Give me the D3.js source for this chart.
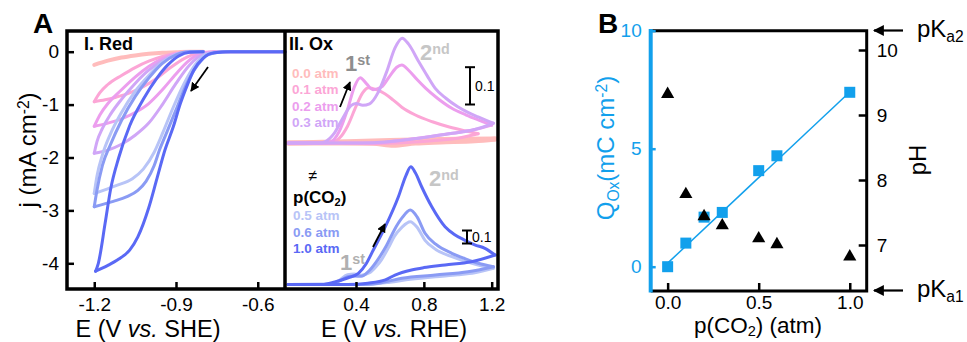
<!DOCTYPE html>
<html><head><meta charset="utf-8">
<script src="https://cdn.jsdelivr.net/npm/d3@7"></script>
<style>body{margin:0;background:#fff;overflow:hidden} svg{font-family:Arial,"Liberation Sans",sans-serif}</style>
</head><body><svg id="c" width="967" height="342"></svg>
<script>
// ---------------- DATA ----------------
const pressures = ["0.0","0.1","0.2","0.3","0.5","0.6","1.0"];
// Panel A-I : reduction CVs  [E (V vs SHE), j (mA cm-2)]
const red00 = [[-1.2,-0.25],[-1.15,-0.17],[-1.1,-0.11],[-1.05,-0.07],[-1.0,-0.04],[-0.95,-0.02],[-0.9,-0.01],[-0.85,0],[-0.8,0]];
const red01 = [[-0.5,0],[-0.76,0],[-0.82,-0.03],[-0.87,-0.13],[-0.92,-0.3],[-0.97,-0.5],[-1.02,-0.66],[-1.07,-0.78],[-1.12,-0.86],[-1.16,-0.91],[-1.2,-0.945],
  [-1.18,-0.78],[-1.15,-0.62],[-1.1,-0.45],[-1.05,-0.3],[-1.0,-0.18],[-0.95,-0.09],[-0.9,-0.03],[-0.85,0],[-0.8,0]];
const red02 = [[-0.5,0],[-0.75,0],[-0.81,-0.04],[-0.86,-0.2],[-0.9,-0.42],[-0.95,-0.72],[-1.0,-0.98],[-1.05,-1.15],[-1.1,-1.27],[-1.15,-1.35],[-1.2,-1.41],
  [-1.18,-1.2],[-1.15,-0.98],[-1.1,-0.72],[-1.05,-0.48],[-1.0,-0.28],[-0.95,-0.13],[-0.9,-0.04],[-0.85,0],[-0.8,0]];
const red03 = [[-0.5,0],[-0.74,0],[-0.8,-0.05],[-0.85,-0.25],[-0.9,-0.6],[-0.95,-1.0],[-1.0,-1.35],[-1.05,-1.58],[-1.1,-1.75],[-1.15,-1.86],[-1.2,-1.92],
  [-1.19,-1.7],[-1.17,-1.45],[-1.14,-1.18],[-1.1,-0.9],[-1.05,-0.6],[-1.0,-0.35],[-0.95,-0.17],[-0.9,-0.05],[-0.85,0],[-0.8,0]];
const red05 = [[-0.5,0],[-0.73,0],[-0.79,-0.05],[-0.83,-0.25],[-0.87,-0.6],[-0.91,-1.05],[-0.95,-1.55],[-0.98,-1.9],[-1.02,-2.22],[-1.06,-2.4],[-1.12,-2.53],[-1.2,-2.68],
  [-1.19,-2.35],[-1.17,-1.95],[-1.14,-1.55],[-1.1,-1.15],[-1.05,-0.75],[-1.0,-0.45],[-0.95,-0.2],[-0.9,-0.05],[-0.85,0],[-0.8,0]];
const red06 = [[-0.5,0],[-0.72,0],[-0.78,-0.05],[-0.82,-0.25],[-0.86,-0.6],[-0.9,-1.1],[-0.94,-1.6],[-0.96,-1.85],[-0.98,-2.15],[-1.01,-2.45],[-1.04,-2.62],[-1.08,-2.74],[-1.13,-2.83],[-1.2,-2.93],
  [-1.19,-2.62],[-1.17,-2.15],[-1.14,-1.75],[-1.1,-1.3],[-1.05,-0.85],[-1.0,-0.5],[-0.95,-0.22],[-0.9,-0.06],[-0.85,0],[-0.8,0]];
const red10 = [[-0.5,0],[-0.7,0],[-0.76,-0.02],[-0.8,-0.12],[-0.835,-0.35],[-0.86,-0.65],[-0.884,-0.98],[-0.91,-1.42],[-0.94,-1.85],[-0.97,-2.4],[-1.0,-2.95],[-1.04,-3.5],[-1.07,-3.75],[-1.11,-3.92],[-1.15,-4.04],[-1.195,-4.15],
  [-1.185,-4.0],[-1.16,-3.24],[-1.14,-2.6],[-1.11,-2.0],[-1.07,-1.4],[-1.02,-0.9],[-0.97,-0.5],[-0.93,-0.25],[-0.89,-0.08],[-0.85,-0.01],[-0.8,0]];
// Panel A-II : oxidation CVs  [E (V vs RHE), j (mA cm-2)]
const ox00 = [[0.0,0],[0.2,0.002],[0.4,0.004],[0.6,0.007],[0.8,0.009],[1.0,0.01],[1.22,0.011],[1.1,0.006],[0.9,0.003],[0.75,0.0],[0.62,-0.006],[0.5,-0.001],[0.3,0],[0.0,0]];
const ox01 = [[0,0],[0.2,0],[0.26,0.002],[0.3,0.012],[0.35,0.045],[0.4,0.098],[0.44,0.135],[0.475,0.148],[0.52,0.143],[0.57,0.132],[0.62,0.115],[0.67,0.096],[0.75,0.075],[0.85,0.057],[0.95,0.043],[1.05,0.032],[1.12,0.025],
  [1.0,0.013],[0.85,0.006],[0.7,0.001],[0.5,-0.002],[0.3,0],[0,0]];
const ox02 = [[0,0],[0.2,0],[0.25,0.003],[0.3,0.03],[0.35,0.09],[0.39,0.15],[0.425,0.175],[0.46,0.16],[0.5,0.143],[0.55,0.15],[0.6,0.18],[0.64,0.203],[0.67,0.209],[0.71,0.195],[0.76,0.17],[0.81,0.147],[0.88,0.12],[0.965,0.093],[1.05,0.075],[1.12,0.062],[1.2,0.048],
  [1.1,0.036],[0.97,0.026],[0.85,0.018],[0.72,0.01],[0.6,0.003],[0.5,0],[0,0]];
const ox03 = [[0,0],[0.18,0],[0.22,0.004],[0.27,0.025],[0.32,0.065],[0.37,0.1],[0.4,0.106],[0.44,0.101],[0.48,0.105],[0.53,0.135],[0.58,0.19],[0.63,0.255],[0.672,0.281],[0.71,0.265],[0.77,0.218],[0.82,0.18],[0.866,0.147],[0.93,0.12],[1.0,0.097],[1.06,0.082],[1.12,0.07],[1.21,0.053],
  [1.1,0.036],[0.97,0.026],[0.85,0.018],[0.72,0.01],[0.6,0.004],[0.5,0.001],[0.35,0],[0,0]];
const ox05 = [[0,0],[0.25,0.002],[0.3,0.03],[0.35,0.075],[0.39,0.08],[0.43,0.072],[0.48,0.09],[0.52,0.14],[0.55,0.19],[0.59,0.28],[0.626,0.37],[0.67,0.44],[0.72,0.483],[0.76,0.44],[0.807,0.34],[0.87,0.27],[0.965,0.214],[1.04,0.18],[1.12,0.15],[1.21,0.125],
  [1.1,0.09],[1.0,0.074],[0.87,0.06],[0.72,0.04],[0.6,0.018],[0.5,0.004],[0.4,0],[0,0]];
const ox06 = [[0,0],[0.25,0.002],[0.3,0.025],[0.35,0.06],[0.39,0.065],[0.43,0.063],[0.48,0.11],[0.528,0.19],[0.58,0.3],[0.626,0.42],[0.67,0.51],[0.72,0.573],[0.76,0.52],[0.807,0.394],[0.87,0.31],[0.965,0.24],[1.04,0.2],[1.12,0.163],[1.21,0.137],
  [1.06,0.098],[0.867,0.073],[0.67,0.048],[0.573,0.02],[0.5,0.004],[0.4,0],[0,0]];
const ox10 = [[0,0],[0.2,0],[0.275,0.02],[0.35,0.05],[0.414,0.086],[0.46,0.16],[0.502,0.265],[0.573,0.445],[0.65,0.675],[0.695,0.84],[0.723,0.906],[0.75,0.86],[0.787,0.752],[0.846,0.6],[0.925,0.445],[0.98,0.385],[1.04,0.342],[1.1,0.305],[1.16,0.278],[1.22,0.227],
  [1.08,0.175],[0.925,0.15],[0.8,0.13],[0.727,0.112],[0.63,0.073],[0.573,0.035],[0.47,0.01],[0.35,0],[0,0]];
// Panel B
const pCO2 = [0, 0.1, 0.2, 0.3, 0.5, 0.6, 1.0];
const qOx  = [0, 1.0, 2.1, 2.3, 4.07, 4.7, 7.39];
const pH   = [9.32, 7.78, 7.44, 7.30, 7.10, 7.01, 6.82];
const fitP = [0, 1.0];
const fitQ = [0.15, 7.4];
// ticks
const redXTicks = [-1.2, -0.9, -0.6];
const redYTicks = [0, -1, -2, -3, -4];
const oxXTicks = [0.4, 0.8, 1.2];
const bXTicks = [0, 0.5, 1.0];
const qTicks = [0, 5, 10];
const pHTicks = [7, 8, 9, 10];

// ---------------- STYLE ----------------
const colr = ["#ffbcbc","#fca6d6","#ec9eee","#d0a6f7","#b8c4f7","#8a9bf4","#5a69f5"];
const BLUE = "#12a0ec";
const svg = d3.select("#c");
const FS = 19;

// ---------------- PANEL A ----------------
const xR = d3.scaleLinear().domain([-1.30,-0.50]).range([67,285]);
const yR = d3.scaleLinear().domain([0,-4]).range([51.7,263.3]);
const xO = d3.scaleLinear().domain([0.4,1.2]).range([356,491.7]);
const yTop = d3.scaleLinear().domain([0,0.1]).range([143,105.7]);
const yBot = d3.scaleLinear().domain([0,0.1]).range([284.5,271.5]);

function splitLoop(arr, extreme){ // split at extreme E
  let idx = 0;
  arr.forEach((d,i)=>{ if(extreme==="min" ? d[0]<arr[idx][0] : d[0]>arr[idx][0]) idx=i; });
  return [arr.slice(0,idx+1), arr.slice(idx)];
}
function drawLoop(g, arr, xs, ys, color, w, extreme){
  const line = d3.line().x(d=>xs(d[0])).y(d=>ys(d[1])).curve(d3.curveMonotoneX);
  splitLoop(arr, extreme).forEach(part=>{
    if(part.length<2) return;
    const p = part.slice().sort((a,b)=>a[0]-b[0]);
    g.append("path").attr("d", line(p)).attr("fill","none").attr("stroke",color)
     .attr("stroke-width",w).attr("stroke-linejoin","round").attr("stroke-linecap","round");
  });
}
const gA = svg.append("g");
const redSets = [red00, red01, red02, red03, red05, red06, red10];
redSets.forEach((s,i)=>drawLoop(gA, s, xR, yR, colr[i], i===0?4:3, "min"));

const oxTop = [ox00, ox01, ox02, ox03];
const oxBot = [ox05, ox06, ox10];
oxTop.forEach((s,i)=>drawLoop(gA, s, xO, yTop, colr[i], i===0?5:3, "max"));
oxBot.forEach((s,i)=>drawLoop(gA, s, xO, yBot, colr[i+4], 3, "max"));

// frame
const frame = svg.append("g").attr("stroke","#000").attr("stroke-width",3.5).attr("fill","none");
frame.append("rect").attr("x",67).attr("y",31).attr("width",498-67).attr("height",289-31);
frame.append("line").attr("x1",285).attr("x2",285).attr("y1",31).attr("y2",289);

function styleAxis(g, color){
  g.select(".domain").remove();
  g.selectAll(".tick line").attr("stroke",color).attr("stroke-width",2.5);
  g.selectAll(".tick text").attr("fill",color).style("font-size",FS+"px").style("font-family","Arial, 'Liberation Sans', sans-serif");
}
const fmt1 = d=>d.toFixed(1);
svg.append("g").attr("transform","translate(0,289)")
  .call(d3.axisBottom(xR).tickValues(redXTicks).tickSize(-7).tickPadding(9).tickFormat(fmt1))
  .call(g=>styleAxis(g,"#000"));
svg.append("g").attr("transform","translate(67,0)")
  .call(d3.axisLeft(yR).tickValues(redYTicks).tickSize(-7).tickPadding(8).tickFormat(d=>String(d)))
  .call(g=>styleAxis(g,"#000"));
svg.append("g").attr("transform","translate(0,289)")
  .call(d3.axisBottom(xO).tickValues(oxXTicks).tickSize(-7).tickPadding(9).tickFormat(fmt1))
  .call(g=>styleAxis(g,"#000"));

// texts
function txt(x,y,parts,opts={}){
  const t = svg.append("text").attr("x",x).attr("y",y)
    .attr("font-size",opts.size||FS).attr("fill",opts.fill||"#000")
    .attr("font-weight",opts.bold?"bold":"normal")
    .attr("text-anchor",opts.anchor||"start");
  if(opts.rotate) t.attr("transform",`rotate(${opts.rotate},${x},${y})`);
  parts.forEach(p=>{
    if(typeof p==="string"){ t.append("tspan").text(p); }
    else {
      const s = t.append("tspan").text(p.t);
      if(p.sub){ s.attr("baseline-shift",p.shift||"-30%").attr("font-size",(opts.size||FS)*0.65); }
      if(p.sup){ s.attr("baseline-shift","45%").attr("font-size",(opts.size||FS)*0.65); }
      if(p.italic) s.attr("font-style","italic");
      if(p.fill) s.attr("fill",p.fill);
    }
  });
  return t;
}
txt(33,33,["A"],{size:28,bold:true});
txt(84,50,["I. Red"],{size:18,bold:true});
txt(289,50,["II. Ox"],{size:18,bold:true});
txt(36,150,["j (mA cm",{t:"-2",sup:true},")"],{size:24,anchor:"middle",rotate:-90});
txt(148,336.5,["E (V ",{t:"vs.",italic:true}," SHE)"],{size:23.5,anchor:"middle"});
txt(394,336.5,["E (V ",{t:"vs.",italic:true}," RHE)"],{size:23.5,anchor:"middle"});

// legends in Ox panel
const topLeg = [0,1,2,3];
topLeg.forEach((k,i)=>txt(292,78+i*16.3,[pressures[k]+" atm"],{size:13.5,bold:true,fill:colr[k]}));
const botLeg = [4,5,6];
botLeg.forEach((k,i)=>txt(293,220+i*16.5,[pressures[k]+" atm"],{size:13.5,bold:true,fill:colr[k]}));
txt(313,181,["≠"],{size:16,anchor:"middle"});
txt(293,203,["p(CO",{t:"2",sub:true},")"],{size:17,bold:true});
// 1st / 2nd labels
txt(345,71,["1",{t:"st",sup:true}],{size:22,bold:true,fill:"#8e8e8e"});
txt(420,60,["2",{t:"nd",sup:true}],{size:22,bold:true,fill:"#c6c6c6"});
txt(340,270,["1",{t:"st",sup:true}],{size:22,bold:true,fill:"#b0b0b0"});
txt(429,186,["2",{t:"nd",sup:true}],{size:22,bold:true,fill:"#c6c6c6"});

// arrows
const defs = svg.append("defs");
defs.append("marker").attr("id","ah").attr("viewBox","0 0 10 10").attr("refX",9).attr("refY",5)
  .attr("markerWidth",5).attr("markerHeight",5).attr("orient","auto-start-reverse")
  .append("path").attr("d","M0,0 L10,5 L0,10 Z").attr("fill","#000");
function arrow(x1,y1,x2,y2,w){
  svg.append("line").attr("x1",x1).attr("y1",y1).attr("x2",x2).attr("y2",y2)
    .attr("stroke","#000").attr("stroke-width",w||1.8).attr("marker-end","url(#ah)");
}
arrow(208,67,191,91);
arrow(340,107,350,82);
arrow(373,247,385,224);

// scale bars
function sbar(x,y1,y2,label){
  const g = svg.append("g").attr("stroke","#000").attr("stroke-width",2);
  g.append("line").attr("x1",x).attr("x2",x).attr("y1",y1).attr("y2",y2);
  g.append("line").attr("x1",x-5).attr("x2",x+5).attr("y1",y1).attr("y2",y1);
  g.append("line").attr("x1",x-5).attr("x2",x+5).attr("y1",y2).attr("y2",y2);
  txt(x+5,(y1+y2)/2+5,[label],{size:14});
}
sbar(470, yTop(0.1)-38.5, yTop(0.1)-1.2, "0.1");
sbar(467, yBot(0.1)-53+12, yBot(0.1)-53+25, "0.1");

// ---------------- PANEL B ----------------
const xB = d3.scaleLinear().domain([-0.093,1.093]).range([650.7,866.7]);
const yQ = d3.scaleLinear().domain([0,10]).range([266.7,30.7]);
const yP = d3.scaleLinear().domain([7,10]).range([245,50]);

const fb = svg.append("g").attr("fill","none");
fb.append("path").attr("d",`M650.7,30.7 H866.7 V291 H650.7`).attr("stroke","#000").attr("stroke-width",3);
fb.append("line").attr("x1",650.7).attr("x2",650.7).attr("y1",29).attr("y2",292.5).attr("stroke",BLUE).attr("stroke-width",4);

svg.append("g").attr("transform","translate(0,291)")
  .call(d3.axisBottom(xB).tickValues(bXTicks).tickSize(-8).tickPadding(5).tickFormat(fmt1))
  .call(g=>styleAxis(g,"#000"));
svg.append("g").attr("transform","translate(650.7,0)")
  .call(d3.axisLeft(yQ).tickValues(qTicks).tickSize(-5).tickPadding(9).tickFormat(d=>String(d)))
  .call(g=>styleAxis(g,BLUE));
svg.append("g").attr("transform","translate(866.7,0)")
  .call(d3.axisRight(yP).tickValues(pHTicks).tickSize(-8).tickPadding(10).tickFormat(d=>String(d)))
  .call(g=>styleAxis(g,"#000"));

// fit line
svg.append("path").attr("d", d3.line().x((d,i)=>xB(fitP[i])).y((d,i)=>yQ(fitQ[i]))(fitP))
  .attr("stroke",BLUE).attr("stroke-width",1.5).attr("fill","none");
// squares
svg.append("g").selectAll("rect").data(pCO2).join("rect")
  .attr("x",(d)=>xB(d)-5.5).attr("y",(d,i)=>yQ(qOx[i])-5.5).attr("width",11).attr("height",11)
  .attr("fill",BLUE);
// triangles
const tri = d3.symbol().type(d3.symbolTriangle).size(75);
svg.append("g").selectAll("path").data(pCO2).join("path")
  .attr("d",tri).attr("transform",(d,i)=>`translate(${xB(d)},${yP(pH[i])})`).attr("fill","#000");

txt(598,33,["B"],{size:28,bold:true});
txt(614,148,["Q",{t:"Ox",sub:true},"(mC cm",{t:"-2",sup:true},")"],{size:24,anchor:"middle",rotate:-90,fill:BLUE});
txt(926,160,["pH"],{size:24,anchor:"middle",rotate:-90});
txt(758,333,["p(CO",{t:"2",sub:true,shift:"-20%"},") (atm)"],{size:22.5,anchor:"middle"});

// pKa arrows
function pkArrow(y){
  svg.append("line").attr("x1",903).attr("x2",874).attr("y1",y).attr("y2",y)
    .attr("stroke","#000").attr("stroke-width",2.2).attr("marker-end","url(#ah)");
}
pkArrow(yP(10.3));
pkArrow(yP(6.3));
txt(917,yP(10.3)+6,["pK",{t:"a2",sub:true}],{size:24});
txt(917,yP(6.3)+6,["pK",{t:"a1",sub:true}],{size:24});
</script></body></html>
